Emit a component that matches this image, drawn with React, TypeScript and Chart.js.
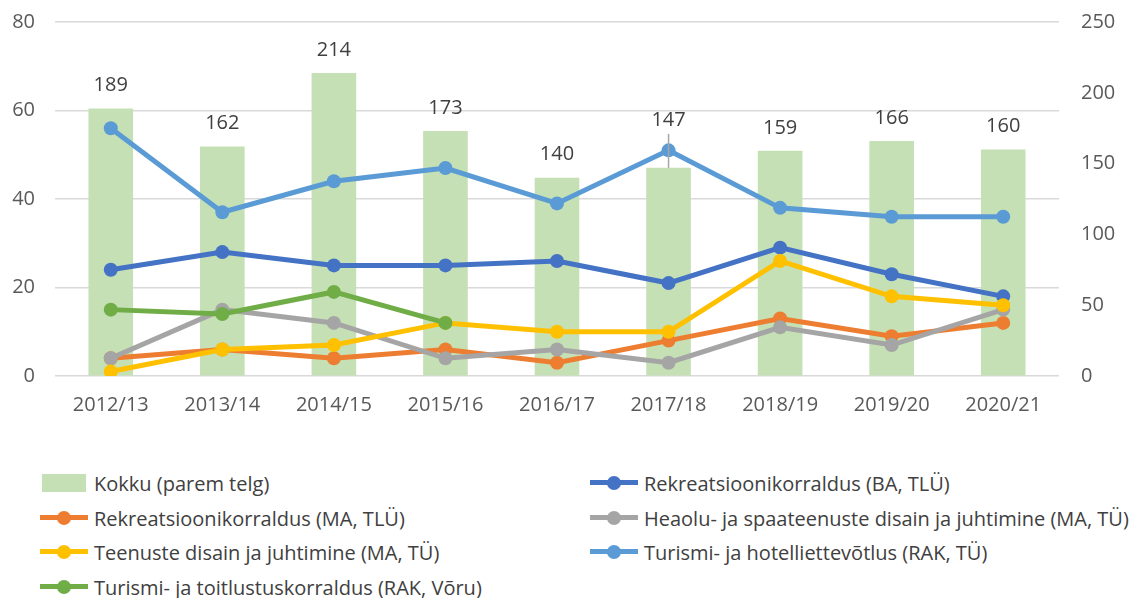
import React, { useEffect, useRef } from "react";
import { Chart, registerables } from "chart.js";

Chart.register(...registerables);

const categories = ["2012/13", "2013/14", "2014/15", "2015/16", "2016/17", "2017/18", "2018/19", "2019/20", "2020/21"];
const kokku = [189, 162, 214, 173, 140, 147, 159, 166, 160];
const rekrBA = [24, 28, 25, 25, 26, 21, 29, 23, 18];
const rekrMA = [4, 6, 4, 6, 3, 8, 13, 9, 12];
const heaolu = [4, 15, 12, 4, 6, 3, 11, 7, 15];
const teenuste = [1, 6, 7, 12, 10, 10, 26, 18, 16];
const turismiHotell = [56, 37, 44, 47, 39, 51, 38, 36, 36];
const turismiToitlus = [15, 14, 19, 12, null, null, null, null, null];

const leftTicks = { min: 0, max: 80, step: 20 };
const rightTicks = { min: 0, max: 250, step: 50 };

// data label placement (pixels above bar top); moved labels get a leader line
const labelGap = 23;
const movedLabelGap: Record<string, number> = { "2017/18": 48 };

const FONT = "'Open Sans', 'Noto Sans', sans-serif";

const lineSeries = [
  { label: "Rekreatsioonikorraldus (BA, TLÜ)", data: rekrBA, color: "#4472C4", order: 7 },
  { label: "Rekreatsioonikorraldus (MA, TLÜ)", data: rekrMA, color: "#ED7D31", order: 6 },
  { label: "Heaolu- ja spaateenuste disain ja juhtimine (MA, TÜ)", data: heaolu, color: "#A5A5A5", order: 5 },
  { label: "Teenuste disain ja juhtimine (MA, TÜ)", data: teenuste, color: "#FFC000", order: 4 },
  { label: "Turismi- ja hotelliettevõtlus (RAK, TÜ)", data: turismiHotell, color: "#5B9BD5", order: 3 },
  { label: "Turismi- ja toitlustuskorraldus (RAK, Võru)", data: turismiToitlus, color: "#70AD47", order: 2 },
];

const barLabel = "Kokku (parem telg)";
const barColor = "#C5E0B4";

const legendItems = [
  { label: barLabel, color: barColor, bar: true, col: 0, row: 0 },
  { label: lineSeries[0].label, color: lineSeries[0].color, bar: false, col: 1, row: 0 },
  { label: lineSeries[1].label, color: lineSeries[1].color, bar: false, col: 0, row: 1 },
  { label: lineSeries[2].label, color: lineSeries[2].color, bar: false, col: 1, row: 1 },
  { label: lineSeries[3].label, color: lineSeries[3].color, bar: false, col: 0, row: 2 },
  { label: lineSeries[4].label, color: lineSeries[4].color, bar: false, col: 1, row: 2 },
  { label: lineSeries[5].label, color: lineSeries[5].color, bar: false, col: 0, row: 3 },
];

const barLabelsPlugin = {
  id: "barLabels",
  afterDatasetsDraw(chart: any) {
    const ctx = chart.ctx;
    const meta = chart.getDatasetMeta(0);
    ctx.save();
    ctx.font = `20px ${FONT}`;
    ctx.textAlign = "center";
    ctx.textBaseline = "middle";
    meta.data.forEach((el: any, i: number) => {
      const cat = chart.data.labels[i];
      const moved = movedLabelGap[cat];
      const gap = moved ?? labelGap;
      if (moved) {
        ctx.strokeStyle = "#A6A6A6";
        ctx.lineWidth = 1.5;
        ctx.beginPath();
        ctx.moveTo(el.x, el.y - gap + 14);
        ctx.lineTo(el.x, el.y);
        ctx.stroke();
      }
      ctx.fillStyle = "#404040";
      ctx.fillText(String(chart.data.datasets[0].data[i]), el.x, el.y - gap);
    });
    ctx.restore();
  },
};

export default function App() {
  const ref = useRef<HTMLCanvasElement>(null);
  useEffect(() => {
    if (!ref.current) return;
    const chart = new Chart(ref.current, {
      type: "bar",
      data: {
        labels: categories,
        datasets: [
          {
            type: "bar",
            label: barLabel,
            data: kokku,
            backgroundColor: barColor,
            yAxisID: "y1",
            order: 10,
            barPercentage: 0.4,
            categoryPercentage: 1,
          } as any,
          ...lineSeries.map((s) => ({
            type: "line",
            label: s.label,
            data: s.data,
            borderColor: s.color,
            backgroundColor: s.color,
            borderWidth: 5,
            pointRadius: 7,
            pointBorderWidth: 0,
            pointBackgroundColor: s.color,
            yAxisID: "y",
            order: s.order,
            spanGaps: false,
            tension: 0,
          })),
        ],
      },
      options: {
        responsive: false,
        animation: false,
        devicePixelRatio: 1,
        layout: { padding: { top: 22, left: 0, right: 0, bottom: 0 } },
        plugins: { legend: { display: false }, tooltip: { enabled: false } },
        scales: {
          x: {
            grid: { display: false, drawTicks: false },
            border: { display: false },
            ticks: { color: "#595959", font: { family: FONT, size: 20 }, padding: 17, maxRotation: 0 },
            afterFit: (s: any) => { s.height = 54; },
          },
          y: {
            position: "left",
            min: leftTicks.min,
            max: leftTicks.max,
            ticks: { stepSize: leftTicks.step, color: "#595959", font: { family: FONT, size: 20 }, padding: 0 },
            grid: { color: "#D9D9D9", lineWidth: 1.5, drawTicks: true, tickLength: 20, tickColor: "rgba(0,0,0,0)" },
            border: { display: false },
            afterFit: (s: any) => { s.width = 55; },
          },
          y1: {
            position: "right",
            min: rightTicks.min,
            max: rightTicks.max,
            ticks: { stepSize: rightTicks.step, color: "#595959", font: { family: FONT, size: 20 }, padding: 0 },
            grid: { display: true, drawOnChartArea: false, drawTicks: true, tickLength: 22, tickColor: "rgba(0,0,0,0)" },
            border: { display: false },
            afterFit: (s: any) => { s.width = 71; },
          },
        },
      } as any,
      plugins: [barLabelsPlugin],
    });
    return () => chart.destroy();
  }, []);

  const rowY = [483, 518, 552, 587];
  const colX = [40, 590];

  return (
    <div style={{ position: "absolute", left: 0, top: 0, width: 1130, height: 598, background: "#fff", fontFamily: FONT }}>
      <canvas ref={ref} width={1130} height={430} style={{ position: "absolute", left: 0, top: 0, width: 1130, height: 430 }} />
      {legendItems.map((it, i) => (
        <div
          key={i}
          style={{
            position: "absolute",
            left: colX[it.col],
            top: rowY[it.row] - 14,
            height: 28,
            display: "flex",
            alignItems: "center",
            whiteSpace: "nowrap",
            fontSize: 20,
            color: "#404040",
          }}
        >
          <div style={{ position: "relative", width: 48, height: 20, marginRight: 6 }}>
            {it.bar ? (
              <div style={{ position: "absolute", left: 2, top: 1, width: 44, height: 18, background: it.color }} />
            ) : (
              <>
                <div style={{ position: "absolute", left: 0, top: 7, width: 48, height: 5, background: it.color }} />
                <div style={{ position: "absolute", left: 17, top: 3, width: 14, height: 14, borderRadius: 7, background: it.color }} />
              </>
            )}
          </div>
          <span>{it.label}</span>
        </div>
      ))}
    </div>
  );
}
